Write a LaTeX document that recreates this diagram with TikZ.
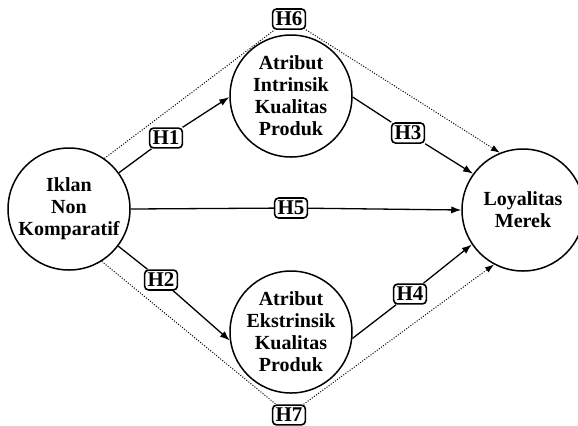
\documentclass[tikz,border=0pt]{standalone}
\usepackage{fontspec}
\setmainfont{Liberation Serif}
\usetikzlibrary{arrows.meta}
\tikzset{var/.style={circle,draw,line width=0.75pt,minimum size=61pt,inner sep=0pt,align=center,font=\bfseries\fontsize{10}{11}\selectfont},
hyp/.style={draw,line width=0.8pt,rounded corners=2pt,fill=white,inner sep=1.5pt,minimum height=9.5pt,font=\bfseries\fontsize{10.5}{11}\selectfont},
arr/.style={-{Latex[length=5pt,width=3.6pt]},line width=0.65pt},
dotarr/.style={-{Latex[length=4.5pt,width=3.2pt]},dash pattern=on 0.5pt off 0.8pt,line width=0.5pt}}

\begin{document}
\begin{tikzpicture}[x=0.5pt,y=-0.5pt]
\useasboundingbox (0,0) rectangle (578,425);
% variables
\node[var](iklan)at(69,209){Iklan\\Non\\Komparatif};
\node[var](intr)at(291,96){Atribut\\Intrinsik\\Kualitas\\Produk};
\node[var](ekst)at(291,332){Atribut\\Ekstrinsik\\Kualitas\\Produk};
\node[var](loyal)at(523,210){Loyalitas\\Merek};
% hypotheses
\node[hyp](h1)at(166,138){H1};\node[hyp](h2)at(161,280){H2};\node[hyp](h3)at(408,133){H3};\node[hyp](h4)at(410,294){H4};
\node[hyp](h5)at(291,208){H5};\node[hyp](h6)at(289,19){H6};\node[hyp](h7)at(289,415){H7};
% paths
\draw[arr](iklan.36)--(h1)--(intr.181);\draw[arr](iklan.-37)--(h2)--(ekst.188);
\draw[arr](intr.-1)--(h3)--(loyal.144);\draw[arr](ekst.-6)--(h4)--(loyal.214);
\draw[arr](iklan.0)--(h5)--(loyal.180);
\draw[dotarr](iklan.55)--(h6)--(loyal.112);\draw[dotarr](iklan.-58)--(h7)--(loyal.-118);
\end{tikzpicture}
\end{document}
